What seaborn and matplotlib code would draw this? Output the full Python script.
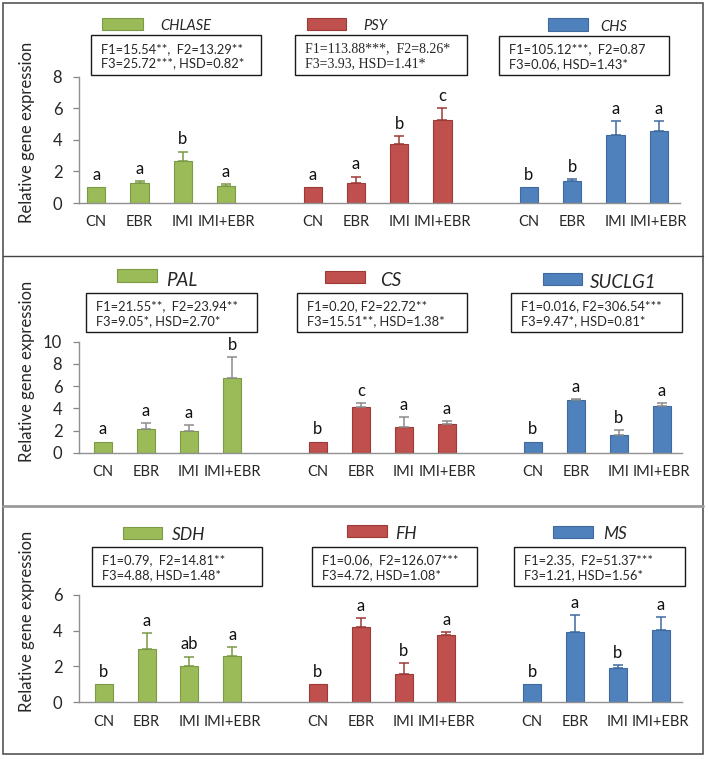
import numpy as np
import pandas as pd
import matplotlib
matplotlib.use("Agg")
import matplotlib.pyplot as plt
from matplotlib.patches import Rectangle
from matplotlib.lines import Line2D
import seaborn as sns

treatments = ["CN", "EBR", "IMI", "IMI+EBR"]

panel_genes = [["CHLASE", "PSY", "CHS"],
               ["PAL", "CS", "SUCLG1"],
               ["SDH", "FH", "MS"]]

means = {
    "CHLASE": [1.0, 1.26, 2.65, 1.08],
    "PSY":    [1.0, 1.28, 3.73, 5.26],
    "CHS":    [1.0, 1.37, 4.34, 4.57],
    "PAL":    [1.0, 2.10, 1.95, 6.70],
    "CS":     [1.0, 4.08, 2.34, 2.61],
    "SUCLG1": [1.0, 4.71, 1.56, 4.20],
    "SDH":    [1.0, 2.99, 2.03, 2.58],
    "FH":     [1.0, 4.18, 1.58, 3.74],
    "MS":     [1.0, 3.90, 1.91, 4.05],
}
errors = {
    "CHLASE": [0, 0.11, 0.61, 0.14],
    "PSY":    [0, 0.40, 0.54, 0.78],
    "CHS":    [0, 0.15, 0.86, 0.63],
    "PAL":    [0, 0.54, 0.55, 1.90],
    "CS":     [0, 0.36, 0.84, 0.24],
    "SUCLG1": [0, 0.15, 0.51, 0.30],
    "SDH":    [0, 0.86, 0.52, 0.52],
    "FH":     [0, 0.50, 0.63, 0.19],
    "MS":     [0, 0.97, 0.15, 0.69],
}
letters = {
    "CHLASE": ["a", "a", "b", "a"],
    "PSY":    ["a", "a", "b", "c"],
    "CHS":    ["b", "b", "a", "a"],
    "PAL":    ["a", "a", "a", "b"],
    "CS":     ["b", "c", "a", "a"],
    "SUCLG1": ["b", "a", "b", "a"],
    "SDH":    ["b", "a", "ab", "a"],
    "FH":     ["b", "a", "b", "a"],
    "MS":     ["b", "a", "b", "a"],
}
stats = {
    "CHLASE": "F1=15.54**,  F2=13.29**\nF3=25.72***, HSD=0.82*",
    "PSY":    "F1=113.88***,  F2=8.26*\nF3=3.93, HSD=1.41*",
    "CHS":    "F1=105.12***,  F2=0.87\nF3=0.06, HSD=1.43*",
    "PAL":    "F1=21.55**,  F2=23.94**\nF3=9.05*, HSD=2.70*",
    "CS":     "F1=0.20, F2=22.72**\nF3=15.51**, HSD=1.38*",
    "SUCLG1": "F1=0.016, F2=306.54***\nF3=9.47*, HSD=0.81*",
    "SDH":    "F1=0.79,  F2=14.81**\nF3=4.88, HSD=1.48*",
    "FH":     "F1=0.06,  F2=126.07***\nF3=4.72, HSD=1.08*",
    "MS":     "F1=2.35,  F2=51.37***\nF3=1.21, HSD=1.56*",
}
y_max = [8, 10, 6]
y_step = [2, 2, 2]

fills = ["#9BBB59", "#C0504D", "#4F81BD"]
edges = ["#7A9A45", "#9C3A37", "#3F6A9E"]

sns.set_style("white")
plt.rcParams["font.family"] = ["Lato", "DejaVu Sans"]

W, H = 708, 759
fig = plt.figure(figsize=(W / 100, H / 100), dpi=100)


def fx(x):
    return x / W


def fy(y):
    return 1 - y / H


# axes extents in pixels: left, right, y of zero, y of top value
ax_px = [(79, 680, 203, 77), (79, 682, 452.7, 341.7), (79, 682, 702.3, 594.7)]
xlims = [(-0.40, 13.49), (-0.56, 13.47), (-0.58, 13.5)]
err_cols = [None, "#8C8C8C", None]

for p, genes in enumerate(panel_genes):
    l, r, yb, yt = ax_px[p]
    ax = fig.add_axes([fx(l), fy(yb), (r - l) / W, (yb - yt) / H])
    for g, gene in enumerate(genes):
        pos = [g * 5 + i for i in range(4)]
        df = pd.DataFrame({"pos": pos, "val": means[gene]})
        sns.barplot(data=df, x="pos", y="val", native_scale=True, width=0.42,
                    color=fills[g], edgecolor=edges[g], linewidth=0.8,
                    saturation=1, errorbar=None, ax=ax)
        e = np.array(errors[gene])
        v = np.array(means[gene])
        m = e > 0
        ecol = err_cols[p] or edges[g]
        ax.errorbar(np.array(pos)[m], v[m], yerr=[np.zeros(m.sum()), e[m]],
                    fmt="none", ecolor=ecol, elinewidth=1.1, capsize=3.5,
                    capthick=1.1)
        for x, val, err, lt in zip(pos, v, e, letters[gene]):
            ax.annotate(lt, (x, val + err), xytext=(0, 3), textcoords="offset points",
                        ha="center", va="bottom", fontsize=12, color="#111111")
    ax.set_xlim(*xlims[p])
    ax.set_ylim(0, y_max[p])
    ax.set_yticks(np.arange(0, y_max[p] + 0.1, y_step[p]))
    ax.set_xticks([g * 5 + i for g in range(3) for i in range(4)])
    ax.set_xticklabels(treatments * 3)
    ax.tick_params(axis="x", length=0, pad=9, labelsize=10.5)
    ax.tick_params(axis="y", length=4, width=0.9, color="#868686", pad=8,
                   labelsize=12, direction="out", left=True)
    for s in ["top", "right"]:
        ax.spines[s].set_visible(False)
    for s in ["left", "bottom"]:
        ax.spines[s].set_color("#909090")
        ax.spines[s].set_linewidth(1.0)
    ax.set_xlabel("")
    ax.set_ylabel("")
    ax.patch.set_alpha(0)

# y labels
for yc in [132, 371, 621]:
    fig.text(fx(27), fy(yc), "Relative gene expression", rotation=90,
             ha="center", va="center", fontsize=12)

# legend patches, gene names and stats boxes (pixel coordinates)
legend_px = [
    [(102, 143, 18, 30, 160, 26), (307, 346, 18, 30, 363, 26), (548, 588, 18, 31, 600, 27)],
    [(117, 157, 269, 282, 166, 281), (325, 365, 271, 283, 380, 281), (543, 582, 273, 285, 590, 283)],
    [(123, 162, 527, 539, 172, 535), (347, 387, 525, 537, 395, 534), (553, 593, 526, 538, 603, 534)],
]
name_size = [10.5, 13.5, 12.5]
box_px = [
    [(91, 261, 35, 75), (295, 467, 35, 75), (499, 669, 36, 75)],
    [(86, 257, 293, 332), (297, 467, 293, 332), (511, 682, 293, 332)],
    [(92, 262, 547, 586), (312, 477, 547, 586), (514, 685, 547, 586)],
]
for p, genes in enumerate(panel_genes):
    for g, gene in enumerate(genes):
        x0, x1, y0, y1, tx, ty = legend_px[p][g]
        fig.add_artist(Rectangle((fx(x0), fy(y1)), (x1 - x0) / W, (y1 - y0) / H,
                                 transform=fig.transFigure, facecolor=fills[g],
                                 edgecolor=edges[g], linewidth=0.8))
        fig.text(fx(tx), fy(ty), gene, style="italic", fontsize=name_size[p],
                 ha="left", va="center")
        bx0, bx1, by0, by1 = box_px[p][g]
        fig.add_artist(Rectangle((fx(bx0), fy(by1)), (bx1 - bx0) / W, (by1 - by0) / H,
                                 transform=fig.transFigure, facecolor="white",
                                 edgecolor="#1a1a1a", linewidth=1.0))
        fam = ["Liberation Serif"] if gene == "PSY" else ["Lato", "DejaVu Sans"]
        fig.text(fx(bx0 + 10), fy((by0 + by1) / 2 + 1), stats[gene], family=fam,
                 fontsize=10 if gene == "PSY" else 9.3, ha="left", va="center",
                 linespacing=1.25)

# outer frame and dividers
fig.add_artist(Rectangle((fx(3), fy(754)), 700 / W, 751 / H, transform=fig.transFigure,
                         facecolor="none", edgecolor="#555555", linewidth=1.2))
fig.add_artist(Line2D([fx(3), fx(703)], [fy(256), fy(256)], transform=fig.transFigure,
                      color="#444444", linewidth=1.0))
fig.add_artist(Line2D([fx(3), fx(703)], [fy(506), fy(506)], transform=fig.transFigure,
                      color="#9a9a9a", linewidth=2.0))

fig.savefig("out.png", dpi=100)
